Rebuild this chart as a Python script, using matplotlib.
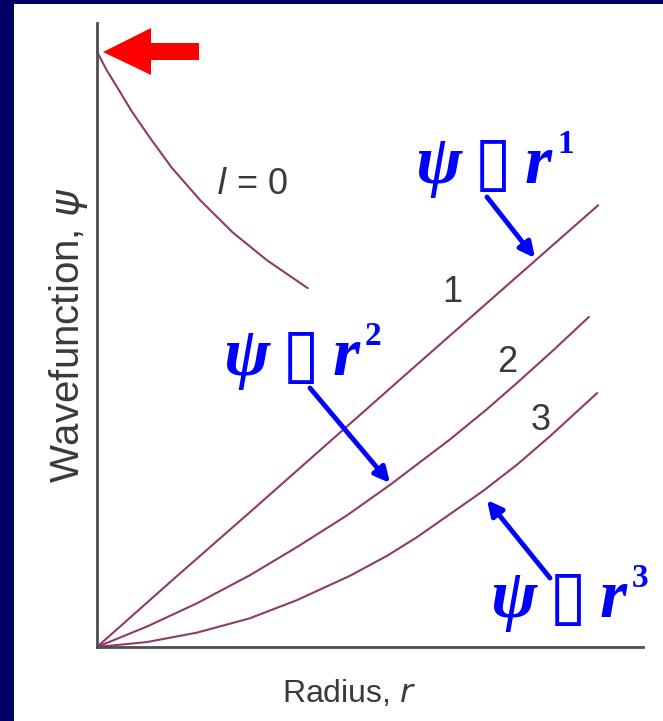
import matplotlib
matplotlib.use("Agg")
import matplotlib.pyplot as plt
from matplotlib.patches import Rectangle, Polygon

# radial wavefunctions near the nucleus (arbitrary units)
r_l0 = [0.0, 0.18, 0.37, 0.64, 0.97, 1.37, 1.89, 2.49, 3.11, 3.86]
psi_l0 = [9.54, 9.24, 8.97, 8.58, 8.16, 7.68, 7.16, 6.64, 6.20, 5.75]

r_l1 = [0.0, 1.43, 2.80, 5.49, 6.10, 7.88, 9.18]
psi_l1 = [0.0, 1.11, 2.16, 4.24, 4.71, 6.08, 7.08]

r_l2 = [0.0, 0.92, 1.83, 2.80, 3.66, 4.58, 5.37, 6.47, 7.14, 7.69, 8.35, 9.01]
psi_l2 = [0.0, 0.33, 0.70, 1.15, 1.60, 2.11, 2.60, 3.33, 3.81, 4.23, 4.75, 5.29]

r_l3 = [0.0, 0.92, 1.83, 2.80, 3.66, 4.63, 5.31, 5.86, 7.07, 7.69, 8.30, 9.16]
psi_l3 = [0.0, 0.08, 0.23, 0.46, 0.75, 1.14, 1.46, 1.76, 2.50, 2.92, 3.38, 4.07]

curve_labels = ["l = 0", "1", "2", "3"]
powers = ["1", "2", "3"]

W, H = 663, 721
NAVY = "#000066"
CURVE = "#8c3b6a"
GREY = "#3a3a3a"
BLUE = "#0000ff"

fig = plt.figure(figsize=(W / 100, H / 100), dpi=100, facecolor=NAVY)
fig.patches.append(Rectangle((14 / W, 0), 1, (H - 4) / H, transform=fig.transFigure,
                             facecolor="white", edgecolor="none", zorder=-1))

ax = fig.add_axes([97 / W, (H - 647) / H, (643 - 97) / W, (647 - 23) / H])
ax.set_facecolor("none")
ax.set_xlim(0, 10)
ax.set_ylim(0, 10)


# pixel position -> data position
def px(x):
    return (x - 97) / 54.6


def py(y):
    return (647 - y) / 62.4


for r, psi in [(r_l0, psi_l0), (r_l1, psi_l1), (r_l2, psi_l2), (r_l3, psi_l3)]:
    ax.plot(r, psi, color=CURVE, lw=1.5, solid_capstyle="round", solid_joinstyle="round",
            clip_on=False)

for s in ["top", "right"]:
    ax.spines[s].set_visible(False)
for s in ["left", "bottom"]:
    ax.spines[s].set_color("#4d4d4d")
    ax.spines[s].set_linewidth(2)
ax.set_xticks([])
ax.set_yticks([])

ax.set_xlabel("Radius, $\\it{r}$", fontsize=23, color=GREY, family="Liberation Sans")
ax.xaxis.set_label_coords(px(349) / 10, -0.05, transform=ax.transAxes)
ax.set_ylabel("Wavefunction, $\\it{\\psi}$", fontsize=29, color=GREY, family="Liberation Sans",
              labelpad=5)

# curve labels
ax.text(px(252), py(184), "$\\it{l}$ = 0", fontsize=26, color=GREY, family="Liberation Sans",
        ha="center", va="center")
for lab, (x, y) in zip(curve_labels[1:], [(452, 292), (507, 362), (541, 421)]):
    ax.text(px(x), py(y), lab, fontsize=26, color=GREY, family="Liberation Sans",
            ha="center", va="center")

# red marker arrow at the origin of the l = 0 curve
ax.add_patch(Polygon([(px(103), py(52)), (px(151), py(28)), (px(151), py(43)), (px(199), py(43)),
                      (px(199), py(60)), (px(151), py(60)), (px(151), py(75))],
                     closed=True, facecolor="#ff0000", edgecolor="none", clip_on=False))


def power_label(x0, base, sup):
    kw = dict(color=BLUE, family="Liberation Serif", weight="bold", style="italic",
              va="baseline", ha="left")
    ax.text(px(x0 - 2), py(base), "ψ", fontsize=50, **kw)
    ax.text(px(x0 + 57), py(base + 1), "▯", fontsize=50, color=BLUE, family="DejaVu Sans",
            va="baseline", ha="left")
    ax.text(px(x0 + 108), py(base), "r", fontsize=50, **kw)
    kw["style"] = "normal"
    ax.text(px(x0 + 140), py(base - 30), sup, fontsize=24, **kw)


for p, (x0, base) in zip(powers, [(417, 183), (225, 375), (492, 617)]):
    power_label(x0, base, p)

arrow_kw = dict(arrowstyle="-|>,head_length=0.9,head_width=0.45", color=BLUE, lw=3.5,
                shrinkA=0, shrinkB=0)
for (x1, y1), (x2, y2) in [((487, 197), (535, 258)), ((310, 388), (390, 483)), ((550, 578), (487, 500))]:
    ax.annotate("", xy=(px(x2), py(y2)), xytext=(px(x1), py(y1)), arrowprops=arrow_kw,
                annotation_clip=False)

fig.savefig("out.png", dpi=100, facecolor=NAVY)
